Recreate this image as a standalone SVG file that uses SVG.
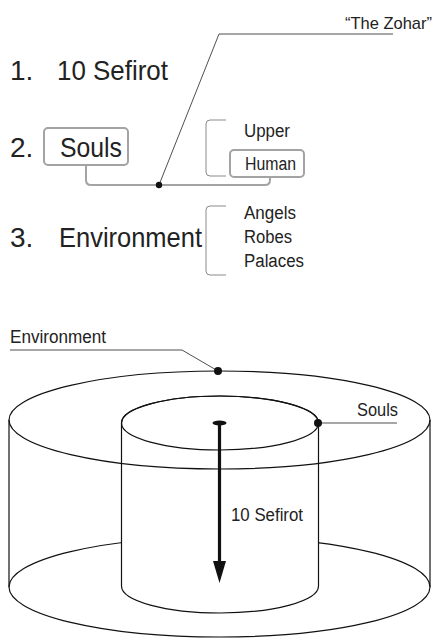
<svg xmlns="http://www.w3.org/2000/svg" width="436" height="640" viewBox="0 0 436 640">
<style>
text{font-family:"Liberation Sans",Arial,Helvetica,sans-serif;fill:#222}
.big{font-size:28px}
.mid{font-size:18px}
.sm{font-size:17px}
.gbox{fill:#fff;stroke:#a3a3a3;stroke-width:2}
.gline{fill:none;stroke:#a3a3a3;stroke-width:2}
.brk{fill:none;stroke:#8a8a8a;stroke-width:1}
.thin{fill:none;stroke:#222;stroke-width:0.8}
.edge{fill:none;stroke:#111;stroke-width:1.2}
.dot{fill:#111}
</style>
<rect width="436" height="640" fill="#fff"/>

<g id="connectors">
  <path class="gline" d="M86,165 V180 Q86,185 91,185 H265 Q270,185 270,180 V177"/>
  <path class="thin" d="M159,185 L219,34 H393"/>
  <path class="brk" d="M226,120 H210 Q206,120 206,124 V172 Q206,176 210,176 H226"/>
  <path class="brk" d="M226,206 H210 Q206,206 206,210 V271 Q206,275 210,275 H226"/>
  <circle class="dot" cx="159" cy="185" r="3.2"/>
</g>

<g id="zohar"><text class="sm" x="345" y="29" textLength="87" lengthAdjust="spacingAndGlyphs">“The Zohar”</text></g>
<g id="item1">
  <text class="big" x="10" y="80">1.</text>
  <text class="big" x="57" y="80" textLength="111" lengthAdjust="spacingAndGlyphs">10 Sefirot</text>
</g>
<g id="item2">
  <text class="big" x="10" y="157">2.</text>
  <rect class="gbox" x="44" y="128" width="84" height="37" rx="4"/>
  <text class="big" x="60" y="157" textLength="62" lengthAdjust="spacingAndGlyphs">Souls</text>
</g>
<g id="upper"><text class="mid" x="244" y="137" textLength="46" lengthAdjust="spacingAndGlyphs">Upper</text></g>
<g id="human">
  <rect class="gbox" x="230" y="150" width="74" height="27" rx="4"/>
  <text class="mid" x="245" y="170" textLength="51" lengthAdjust="spacingAndGlyphs">Human</text>
</g>
<g id="item3">
  <text class="big" x="10" y="247">3.</text>
  <text class="big" x="59" y="247" textLength="143" lengthAdjust="spacingAndGlyphs">Environment</text>
</g>
<g id="env-list">
  <text class="mid" x="244" y="219" textLength="52" lengthAdjust="spacingAndGlyphs">Angels</text>
  <text class="mid" x="244" y="243" textLength="48" lengthAdjust="spacingAndGlyphs">Robes</text>
  <text class="mid" x="244" y="267" textLength="60" lengthAdjust="spacingAndGlyphs">Palaces</text>
</g>

<g id="cylinders">
  <ellipse class="edge" cx="219.5" cy="587" rx="210.5" ry="50"/>
  <line class="edge" x1="9" y1="420" x2="9" y2="587"/>
  <line class="edge" x1="430" y1="420" x2="430" y2="587"/>
  <path d="M121.5,423 V586 A98.5,27 0 0 0 318.5,586 V423 A98.5,27 0 0 0 121.5,423 Z" fill="#fff" stroke="#111" stroke-width="1.2"/>
  <ellipse class="edge" cx="220" cy="423" rx="98.5" ry="27"/>
  <ellipse class="edge" cx="219.5" cy="420" rx="210.5" ry="49"/>
</g>

<g id="labels-bottom">
  <text class="mid" x="10" y="343" textLength="96" lengthAdjust="spacingAndGlyphs">Environment</text>
  <path class="thin" d="M10,350 H182 L218,371"/>
  <circle class="dot" cx="218" cy="371" r="4"/>
  <text class="mid" x="357" y="416" textLength="41" lengthAdjust="spacingAndGlyphs">Souls</text>
  <path class="thin" d="M318,423 H397" stroke-width="1"/>
  <circle class="dot" cx="318" cy="423" r="4"/>
</g>

<g id="arrow">
  <ellipse class="dot" cx="219.5" cy="423" rx="7" ry="2.5"/>
  <line x1="219.5" y1="423" x2="219.5" y2="565" stroke="#111" stroke-width="3.2"/>
  <polygon class="dot" points="213,561 226,561 219.5,583"/>
  <text class="mid" x="231" y="521" textLength="72" lengthAdjust="spacingAndGlyphs">10 Sefirot</text>
</g>
</svg>
